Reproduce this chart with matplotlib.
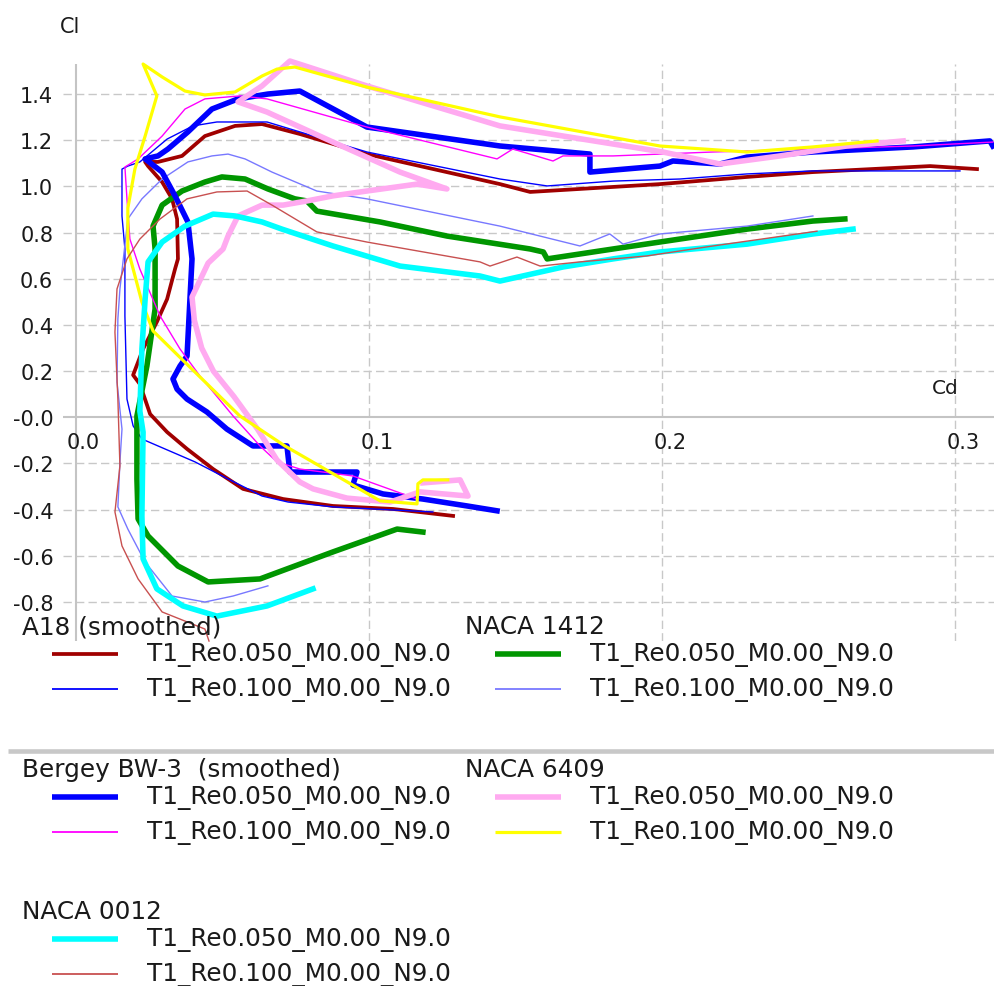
import matplotlib
matplotlib.use("Agg")
import matplotlib.pyplot as plt
from matplotlib.transforms import offset_copy

plt.rcParams['font.family'] = ['DejaVu Sans']

# ---------------- data (Cd, Cl) ----------------
a18_re050 = [(0.1288, -0.427), (0.1083, -0.397), (0.0878, -0.384), (0.0708, -0.354), (0.0571, -0.310),
             (0.0469, -0.224), (0.0380, -0.137), (0.0312, -0.064), (0.0254, 0.014), (0.0219, 0.144),
             (0.0196, 0.183), (0.0230, 0.296), (0.0277, 0.413), (0.0312, 0.512), (0.0339, 0.642),
             (0.0349, 0.686), (0.0346, 0.859), (0.0329, 0.946), (0.0295, 1.019), (0.0247, 1.088),
             (0.0237, 1.106), (0.0281, 1.106), (0.0363, 1.132), (0.0441, 1.218), (0.0544, 1.262),
             (0.0636, 1.270), (0.0765, 1.227), (0.0994, 1.140), (0.1448, 1.010), (0.1551, 0.976),
             (0.1721, 0.989), (0.1994, 1.010), (0.2291, 1.041), (0.2516, 1.062), (0.2916, 1.088),
             (0.3076, 1.075)]

a18_re100 = [(0.1219, -0.410), (0.0878, -0.388), (0.0725, -0.367), (0.0636, -0.341), (0.0520, -0.267),
             (0.0407, -0.193), (0.0226, -0.094), (0.0196, -0.037), (0.0175, 0.079), (0.0168, 0.439),
             (0.0168, 0.729), (0.0158, 0.872), (0.0158, 1.075), (0.0178, 1.088), (0.0219, 1.106),
             (0.0312, 1.205), (0.0400, 1.262), (0.0482, 1.279), (0.0653, 1.279), (0.0765, 1.236),
             (0.0994, 1.149), (0.1448, 1.032), (0.1609, 1.002), (0.1834, 1.023), (0.2062, 1.032),
             (0.2291, 1.054), (0.2516, 1.067), (0.2745, 1.067), (0.3018, 1.067)]

n1412_re050 = [(0.1185, -0.497), (0.1097, -0.484), (0.0878, -0.583), (0.0748, -0.644), (0.0629, -0.700),
               (0.0452, -0.713), (0.0349, -0.644), (0.0247, -0.514), (0.0213, -0.440), (0.0209, -0.267),
               (0.0209, 0.006), (0.0243, 0.222), (0.0271, 0.469), (0.0271, 0.729), (0.0264, 0.828),
               (0.0295, 0.919), (0.0363, 0.980), (0.0441, 1.019), (0.0499, 1.041), (0.0578, 1.032),
               (0.0656, 0.989), (0.0748, 0.946), (0.0789, 0.937), (0.0823, 0.893), (0.1039, 0.846),
               (0.1267, 0.785), (0.1551, 0.729), (0.1596, 0.716), (0.1609, 0.686), (0.1834, 0.729),
               (0.2062, 0.772), (0.2291, 0.815), (0.2516, 0.850), (0.2625, 0.859)]

n1412_re100 = [(0.0656, -0.730), (0.0537, -0.774), (0.0441, -0.800), (0.0329, -0.774), (0.0237, -0.627),
               (0.0178, -0.484), (0.0144, -0.388), (0.0151, -0.193), (0.0158, -0.051), (0.0141, 0.153),
               (0.0144, 0.426), (0.0151, 0.556), (0.0178, 0.859), (0.0226, 0.946), (0.0295, 1.032),
               (0.0383, 1.106), (0.0465, 1.132), (0.0520, 1.140), (0.0578, 1.119), (0.0670, 1.062),
               (0.0823, 0.980), (0.0994, 0.946), (0.1448, 0.828), (0.1721, 0.742), (0.1823, 0.794),
               (0.1868, 0.750), (0.1994, 0.794), (0.2291, 0.828), (0.2516, 0.872)]

bergey_re050 = [(0.1438, -0.405), (0.1336, -0.384), (0.1185, -0.354), (0.1049, -0.332), (0.0946, -0.293),
                (0.0960, -0.237), (0.0731, -0.237), (0.0721, -0.124), (0.0605, -0.124), (0.0516, -0.051),
                (0.0448, 0.023), (0.0380, 0.079), (0.0346, 0.122), (0.0332, 0.166), (0.0356, 0.222),
                (0.0380, 0.265), (0.0390, 0.512), (0.0397, 0.686), (0.0383, 0.846), (0.0339, 0.959),
                (0.0295, 1.062), (0.0237, 1.119), (0.0281, 1.132), (0.0315, 1.162), (0.0383, 1.236),
                (0.0465, 1.335), (0.0554, 1.379), (0.0656, 1.400), (0.0765, 1.413), (0.0994, 1.257),
                (0.1448, 1.175), (0.1755, 1.140), (0.1755, 1.062), (0.1994, 1.088), (0.2038, 1.110),
                (0.2199, 1.097), (0.2291, 1.127), (0.2516, 1.149), (0.2858, 1.171), (0.3120, 1.197),
                (0.3130, 1.175)]

bergey_re100 = [(0.1165, -0.354), (0.0946, -0.254), (0.0765, -0.224), (0.0687, -0.193), (0.0629, -0.124),
                (0.0537, 0.006), (0.0424, 0.179), (0.0356, 0.296), (0.0288, 0.439), (0.0219, 0.642),
                (0.0185, 0.772), (0.0175, 0.946), (0.0168, 1.084), (0.0213, 1.119), (0.0295, 1.218),
                (0.0373, 1.335), (0.0441, 1.379), (0.0561, 1.392), (0.0653, 1.379), (0.0994, 1.257),
                (0.1438, 1.119), (0.1492, 1.162), (0.1629, 1.110), (0.1663, 1.132), (0.1834, 1.132),
                (0.2175, 1.149), (0.2516, 1.162), (0.2858, 1.175), (0.3130, 1.192)]

n6409_re050 = [(0.1185, -0.284), (0.1312, -0.271), (0.1339, -0.341), (0.1175, -0.323), (0.1073, -0.367),
               (0.0926, -0.350), (0.0810, -0.310), (0.0765, -0.280), (0.0687, -0.185), (0.0620, -0.050),
               (0.0540, 0.090), (0.0470, 0.200), (0.0430, 0.300), (0.0405, 0.420), (0.0397, 0.521),
               (0.0452, 0.668), (0.0503, 0.729), (0.0520, 0.785), (0.0554, 0.872), (0.0636, 0.919),
               (0.0708, 0.919), (0.0789, 0.937), (0.0878, 0.959), (0.0994, 0.980), (0.1165, 1.010),
               (0.1267, 0.989), (0.1107, 1.062), (0.0878, 1.192), (0.0653, 1.322), (0.0554, 1.366),
               (0.0636, 1.435), (0.0731, 1.543), (0.0994, 1.435), (0.1448, 1.262), (0.2004, 1.149),
               (0.2199, 1.097), (0.2404, 1.132), (0.2632, 1.175), (0.2824, 1.197)]

n6409_re100 = [(0.1270, -0.271), (0.1185, -0.271), (0.1168, -0.288), (0.1165, -0.375), (0.1039, -0.362),
               (0.0714, -0.124), (0.0560, 0.006), (0.0407, 0.196), (0.0264, 0.374), (0.0226, 0.499),
               (0.0178, 0.729), (0.0178, 0.906), (0.0202, 1.075), (0.0237, 1.218), (0.0277, 1.392),
               (0.0230, 1.530), (0.0295, 1.474), (0.0373, 1.413), (0.0441, 1.396), (0.0544, 1.409),
               (0.0636, 1.478), (0.0687, 1.508), (0.0748, 1.517), (0.0994, 1.430), (0.1448, 1.301),
               (0.1994, 1.175), (0.2291, 1.149), (0.2516, 1.171), (0.2735, 1.197)]

n0012_re050 = [(0.0810, -0.743), (0.0653, -0.817), (0.0482, -0.861), (0.0366, -0.817), (0.0277, -0.743),
               (0.0230, -0.613), (0.0226, -0.427), (0.0230, -0.064), (0.0219, 0.027), (0.0226, 0.296),
               (0.0237, 0.512), (0.0247, 0.673), (0.0295, 0.759), (0.0373, 0.828), (0.0469, 0.880),
               (0.0544, 0.872), (0.0636, 0.846), (0.0704, 0.815), (0.0878, 0.742), (0.1107, 0.655),
               (0.1380, 0.612), (0.1448, 0.590), (0.1663, 0.651), (0.1834, 0.686), (0.1994, 0.716),
               (0.2291, 0.750), (0.2516, 0.794), (0.2653, 0.815)]

n0012_re100 = [(0.0455, -0.969), (0.0441, -0.917), (0.0295, -0.843), (0.0213, -0.700), (0.0158, -0.557),
               (0.0134, -0.410), (0.0151, -0.211), (0.0144, 0.079), (0.0134, 0.369), (0.0141, 0.556),
               (0.0175, 0.686), (0.0219, 0.772), (0.0288, 0.859), (0.0380, 0.946), (0.0482, 0.976),
               (0.0585, 0.980), (0.0670, 0.919), (0.0823, 0.803), (0.0994, 0.759), (0.1380, 0.673),
               (0.1414, 0.655), (0.1506, 0.694), (0.1585, 0.655), (0.1721, 0.673), (0.1950, 0.699),
               (0.2175, 0.742), (0.2530, 0.806)]

cl_ticks = [-0.8, -0.6, -0.4, -0.2, 0.0, 0.2, 0.4, 0.6, 0.8, 1.0, 1.2, 1.4]
cl_tick_labels = ['-0.8', '-0.6', '-0.4', '-0.2', '-0.0', '0.2', '0.4', '0.6', '0.8', '1.0', '1.2', '1.4']
cd_ticks = [0.0, 0.1, 0.2, 0.3]
cd_tick_labels = ['0.0', '0.1', '0.2', '0.3']

airfoils = ['A18 (smoothed)', 'NACA 1412', 'Bergey BW-3  (smoothed)', 'NACA 6409', 'NACA 0012']
polar_names = ['T1_Re0.050_M0.00_N9.0', 'T1_Re0.100_M0.00_N9.0']

# (airfoil index, polar index, points, colour, line width)
series = [
    (0, 0, a18_re050, '#a00000', 2.7),
    (0, 1, a18_re100, '#0000ff', 1.0),
    (1, 0, n1412_re050, '#009600', 4.0),
    (1, 1, n1412_re100, '#7878ff', 1.0),
    (2, 0, bergey_re050, '#0000ff', 4.0),
    (2, 1, bergey_re100, '#ff00ff', 1.0),
    (3, 0, n6409_re050, '#ffaaf0', 4.0),
    (3, 1, n6409_re100, '#ffff00', 2.3),
    (4, 0, n0012_re050, '#00ffff', 4.0),
    (4, 1, n0012_re100, '#c85050', 1.0),
]

# ---------------- figure ----------------
W, H = 995, 987
fig = plt.figure(figsize=(W / 100, H / 100), dpi=100)
L, R, T, B = 63, 995, 65, 642
ax = fig.add_axes([L / W, 1 - B / H, (R - L) / W, (B - T) / H])
ax.set_xlim(-0.00433, 0.31375)
ax.set_ylim(-0.9688, 1.5301)
for s in ax.spines.values():
    s.set_visible(False)

grid_kw = dict(color='#c8c8c8', lw=1.0, ls=(0, (6, 3)), zorder=0)
for v in cl_ticks:
    if v != 0:
        ax.axhline(v, **grid_kw)
for v in cd_ticks[1:]:
    ax.axvline(v, **grid_kw)
ax.axhline(0, color='#c4c4c4', lw=1.5, zorder=0.5)
ax.axvline(0, color='#c4c4c4', lw=1.5, zorder=0.5)

ax.set_xticks([])
ax.set_yticks(cl_ticks)
ax.set_yticklabels(cl_tick_labels)
ax.tick_params(axis='y', length=0, pad=7, labelsize=15, labelcolor='#1a1a1a')

tr = offset_copy(ax.transData, fig=fig, x=8, y=-25, units='dots')
for v, lab in zip(cd_ticks, cd_tick_labels):
    ax.text(v, 0, lab, transform=tr, ha='center', va='center', fontsize=15, color='#1a1a1a')

fig.text(70 / W, 1 - 27 / H, 'Cl', ha='center', va='center', fontsize=15, color='#1a1a1a')
fig.text(945 / W, 1 - 389 / H, 'Cd', ha='center', va='center', fontsize=14.5, color='#1a1a1a')

for g, r, pts, color, lw in series:
    xs = [p[0] for p in pts]
    ys = [p[1] for p in pts]
    ax.plot(xs, ys, color=color, lw=lw, zorder=2, clip_on=False)

# ---------------- legend overlay ----------------
lax = fig.add_axes([0, 0, 1, 1], zorder=5)
lax.set_xlim(0, W)
lax.set_ylim(H, 0)
lax.axis('off')
lax.patch.set_alpha(0)

header_y = [627, 770, 912]
col_x = [22, 465]
lax.plot([8, 995], [752, 752], color='#c8c8c8', lw=3.3, solid_capstyle='butt')
txt_kw = dict(ha='left', va='center', fontsize=17.8, color='#1a1a1a')
for g, r, pts, color, lw in series:
    block, col = divmod(g, 2)
    hx, hy = col_x[col], header_y[block]
    if r == 0:
        lax.text(hx, hy, airfoils[g], **txt_kw)
    y = hy + (28 if r == 0 else 63)
    lax.plot([hx + 30, hx + 96], [y, y], color=color, lw=max(lw, 1.3), solid_capstyle='butt')
    lax.text(hx + 125, y, polar_names[r], **txt_kw)

fig.savefig('out.png', dpi=100)
